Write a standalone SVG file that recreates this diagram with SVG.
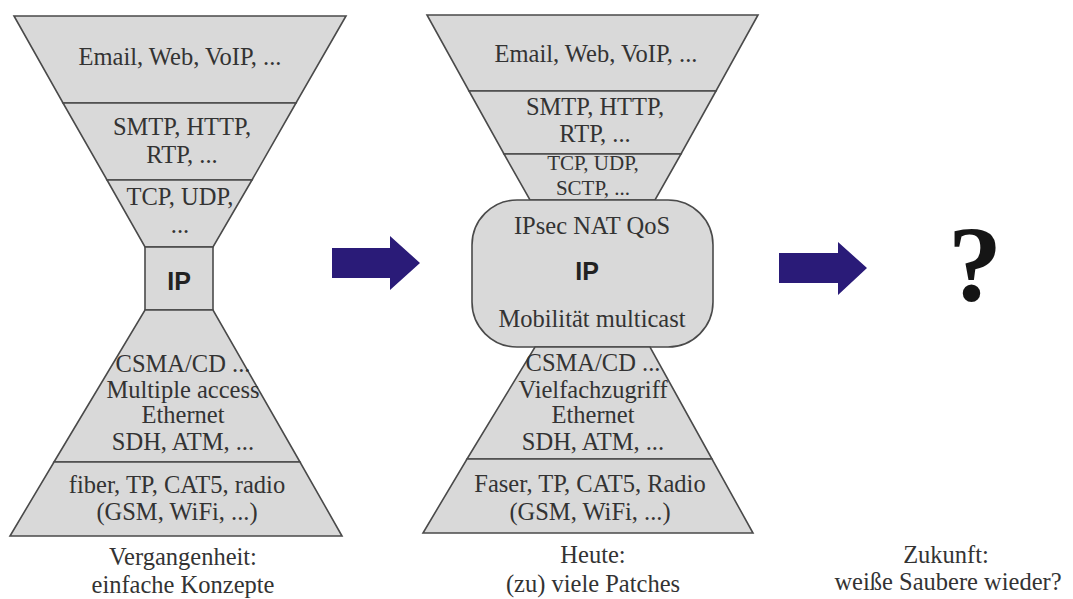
<svg xmlns="http://www.w3.org/2000/svg" width="1073" height="599" viewBox="0 0 1073 599">
<style>
.layer{fill:#d9d9d9;stroke:#4a4a4a;stroke-width:1.6;stroke-linejoin:miter}
.t{font-family:"Liberation Serif","Times New Roman",serif;font-size:24.5px;fill:#333;text-anchor:middle}
.s{font-size:21px}
.b{font-family:"Liberation Sans",Arial,sans-serif;font-weight:bold;font-size:25px;fill:#222;text-anchor:middle}
.arrow{fill:#2a1b78}
</style>
<rect width="1073" height="599" fill="#fff"/>
<!-- Left hourglass -->
<g id="left-app">
<polygon class="layer" points="14,16 346,16 296,103 63,103"/>
<text class="t" x="180" y="65">Email, Web, VoIP, ...</text>
</g>
<g id="left-proto">
<polygon class="layer" points="63,103 296,103 252,180 107,180"/>
<text class="t" x="182" y="135">SMTP, HTTP,</text>
<text class="t" x="182" y="163">RTP, ...</text>
</g>
<g id="left-transport">
<polygon class="layer" points="107,180 252,180 213,247 145,247"/>
<text class="t" x="180" y="205">TCP, UDP,</text>
<text class="t" x="180" y="233">...</text>
</g>
<g id="left-ip">
<rect class="layer" x="145" y="247" width="68" height="63"/>
<text class="b" x="179" y="290">IP</text>
</g>
<g id="left-link">
<polygon class="layer" points="145,310 213,310 300,462 54,462"/>
<text class="t" x="183" y="372">CSMA/CD ...</text>
<text class="t" x="183" y="398">Multiple access</text>
<text class="t" x="183" y="423">Ethernet</text>
<text class="t" x="183" y="450">SDH, ATM, ...</text>
</g>
<g id="left-phys">
<polygon class="layer" points="54,462 300,462 342,536 10,536"/>
<text class="t" x="177" y="493">fiber, TP, CAT5, radio</text>
<text class="t" x="177" y="520">(GSM, WiFi, ...)</text>
</g>
<g id="left-caption">
<text class="t" x="183" y="565">Vergangenheit:</text>
<text class="t" x="183" y="593">einfache Konzepte</text>
</g>
<!-- Middle hourglass -->
<g id="mid-app">
<polygon class="layer" points="427,15 758,15 716,91 469,91"/>
<text class="t" x="596" y="62">Email, Web, VoIP, ...</text>
</g>
<g id="mid-proto">
<polygon class="layer" points="469,91 716,91 681,154 504,154"/>
<text class="t" x="595" y="115">SMTP, HTTP,</text>
<text class="t" x="595" y="142">RTP, ...</text>
</g>
<g id="mid-transport">
<polygon class="layer" points="504,154 681,154 655,200 530,200"/>
<text class="t s" x="593" y="170">TCP, UDP,</text>
<text class="t s" x="593" y="195">SCTP, ...</text>
</g>
<g id="mid-ip">
<rect class="layer" x="472" y="200" width="241" height="147" rx="45" ry="45"/>
<text class="t" x="592" y="234">IPsec NAT QoS</text>
<text class="b" x="587" y="280">IP</text>
<text class="t" x="592" y="327">Mobilität multicast</text>
</g>
<g id="mid-link">
<polygon class="layer" points="535,347 650,347 712,459 467,459"/>
<text class="t" x="593" y="371">CSMA/CD ...</text>
<text class="t" x="593" y="398">Vielfachzugriff</text>
<text class="t" x="593" y="423">Ethernet</text>
<text class="t" x="593" y="450">SDH, ATM, ...</text>
</g>
<g id="mid-phys">
<polygon class="layer" points="467,459 712,459 753,533 423,533"/>
<text class="t" x="590" y="492">Faser, TP, CAT5, Radio</text>
<text class="t" x="590" y="520">(GSM, WiFi, ...)</text>
</g>
<g id="mid-caption">
<text class="t" x="593" y="563">Heute:</text>
<text class="t" x="593" y="592">(zu) viele Patches</text>
</g>
<!-- Right -->
<g id="future">
<text x="975" y="300" font-family="'Liberation Serif','Times New Roman',serif" font-weight="bold" font-size="108" fill="#151515" text-anchor="middle">?</text>
</g>
<g id="future-caption">
<text class="t" x="946" y="563">Zukunft:</text>
<text class="t" x="948" y="590">weiße Saubere wieder?</text>
</g>
<!-- Connectors -->
<g id="connectors">
<polygon class="arrow" points="332,248 390,248 390,236 420,263 390,290 390,278 332,278"/>
<polygon class="arrow" points="779,253 838,253 838,242 867,268 838,295 838,283 779,283"/>
</g>
</svg>
